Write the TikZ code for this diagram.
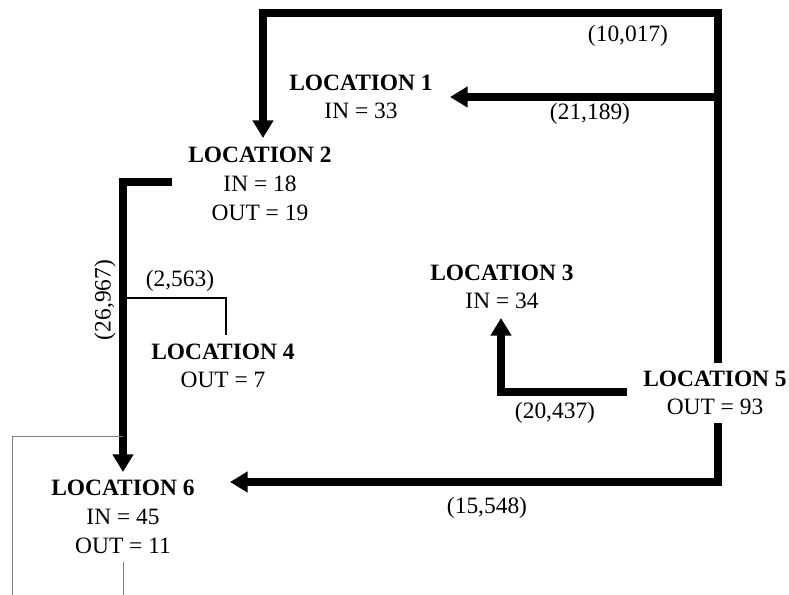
\documentclass[tikz,border=0pt]{standalone}
\usepackage{fontspec}
\setmainfont{Liberation Serif}
\usetikzlibrary{arrows.meta}

\begin{document}
\begin{tikzpicture}[x=0.03cm,y=-0.03cm,
  every node/.style={font=\fontsize{20}{24.5}\selectfont,align=center,inner sep=0pt},
  flow/.style={line width=6pt,-{Triangle[length=15pt,width=17pt]}},
  thinflow/.style={line width=1.6pt},
  guide/.style={gray,line width=0.8pt}]
\useasboundingbox (0,0) rectangle (789,595);
% locations
\node (loc1) at (361,97) {\textbf{LOCATION 1}\\IN = 33};
\node (loc2) at (260,184) {\textbf{LOCATION 2}\\IN = 18\\OUT = 19};
\node (loc3) at (502,287) {\textbf{LOCATION 3}\\IN = 34};
\node (loc4) at (223,366) {\textbf{LOCATION 4}\\OUT = 7};
\node (loc5) at (715,393) {\textbf{LOCATION 5}\\OUT = 93};
\node (loc6) at (123,517) {\textbf{LOCATION 6}\\IN = 45\\OUT = 11};
% flow ends
\coordinate (top5) at (718,363); \coordinate (corner) at (263,13); \coordinate (in2) at (263,138);
\coordinate (split1) at (718,97); \coordinate (in1) at (450,97);
\coordinate (out2) at (172,182); \coordinate (in6) at (123,472);
\coordinate (split4) at (123,298); \coordinate (out4) at (226,335);
\coordinate (out5a) at (627,392); \coordinate (in3) at (501,318);
\coordinate (out5b) at (718,423); \coordinate (in6b) at (230,482);
\draw[flow] (top5) |- (corner) -- (in2);
\draw[flow] (split1) -- (in1);
\draw[flow] (out2) -| (in6);
\draw[thinflow] (split4) -| (out4);
\draw[flow] (out5a) -| (in3);
\draw[flow] (out5b) |- (in6b);
\draw[guide] (123,436) -| (12,595);
\draw[guide] (123,562) -- (123,595);
% volumes
\node (v1) at (628,36) {(10,017)};
\node (v2) at (590,114) {(21,189)};
\node[rotate=90] (v3) at (105,300) {(26,967)};
\node (v4) at (180,281) {(2,563)};
\node (v5) at (555,413) {(20,437)};
\node (v6) at (487,508) {(15,548)};
\end{tikzpicture}
\end{document}
